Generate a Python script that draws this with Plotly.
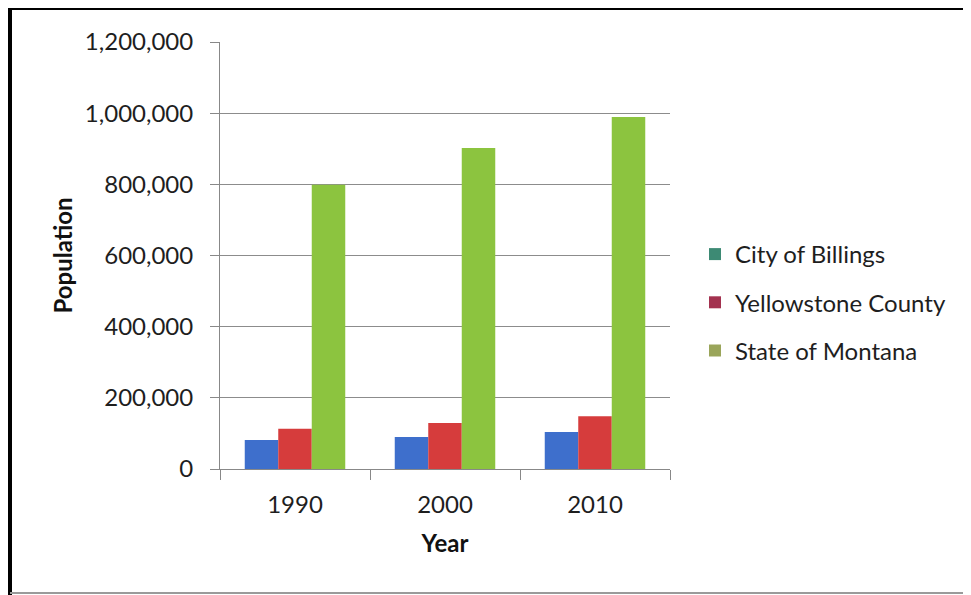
import plotly.graph_objects as go

years = ["1990", "2000", "2010"]
billings = [81151, 89847, 104170]
yellowstone = [113419, 129352, 147972]
montana = [799065, 902195, 989415]
series_names = ["City of Billings", "Yellowstone County", "State of Montana"]
bar_colors = ["#3E6FCC", "#D63C3C", "#8CC43F"]
legend_colors = ["#3D8A74", "#A3324F", "#9AA55A"]
y_ticks = [0, 200000, 400000, 600000, 800000, 1000000, 1200000]
y_tick_labels = ["0", "200,000", "400,000", "600,000", "800,000", "1,000,000", "1,200,000"]

# page body has an 8px margin; figure sized so it fits the 971x595 window
OFF = 8
W, H = 971 - OFF, 595 - OFF
L, T = 220 - OFF, 42 - OFF
pw, ph = 450, 427
R = W - L - pw
B = H - T - ph


def px_x(x):  # viewport px -> paper x
    return (x - OFF - L) / pw


def px_y(y):  # viewport px -> paper y
    return (H - B - (y - OFF)) / ph


fig = go.Figure()
groups = ["a", "b", "c"]
for name, vals, c, g in zip(series_names, [billings, yellowstone, montana], bar_colors, groups):
    fig.add_trace(go.Bar(x=years, y=vals, name=name, offsetgroup=g,
                         marker=dict(color=c, line=dict(width=0)), showlegend=False))
for i, (name, c, g) in enumerate(zip(series_names, legend_colors, groups)):
    fig.add_trace(go.Bar(x=[None], y=[None], name=name, offsetgroup=g,
                         marker=dict(color=c, line=dict(width=0)),
                         legendgroup="g%d" % i, showlegend=True))

font_family = "Lato"
text_color = "#1e1e1e"
fig.update_layout(
    width=W, height=H,
    margin=dict(l=L, r=R, t=T, b=B, pad=0),
    paper_bgcolor="white", plot_bgcolor="white",
    barmode="group", bargap=0.33, bargroupgap=0,
    font=dict(family=font_family, size=24, color=text_color),
    legend=dict(x=px_x(695), xanchor="left", y=px_y(232), yanchor="top",
                font=dict(family=font_family, size=24, color=text_color),
                tracegroupgap=14, bgcolor="rgba(0,0,0,0)", itemwidth=30),
    showlegend=True,
    xaxis=dict(type="category", showgrid=False, showline=True, linecolor="#888888", linewidth=1,
               ticks="outside", tickson="boundaries", ticklen=10, tickcolor="#888888",
               ticklabelstandoff=14,
               tickfont=dict(size=24, color=text_color),
               title=dict(text="<b>Year</b>", font=dict(size=24, color="#111111"), standoff=18)),
    yaxis=dict(range=[0, 1200000], tickvals=y_ticks, ticktext=y_tick_labels,
               showgrid=True, gridcolor="#8c8c8c", gridwidth=1, zeroline=False,
               showline=True, linecolor="#888888", linewidth=1,
               ticks="outside", ticklen=9, tickcolor="#888888",
               ticklabelstandoff=12,
               tickfont=dict(size=24, color=text_color),
               title=dict(text="<b>Population</b>", font=dict(size=24, color="#111111"), standoff=5)),
    shapes=[
        dict(type="line", xref="paper", yref="paper",
             x0=px_x(8), x1=px_x(975), y0=px_y(8.5), y1=px_y(8.5),
             line=dict(color="black", width=3)),
        dict(type="line", xref="paper", yref="paper",
             x0=px_x(10), x1=px_x(10), y0=px_y(7), y1=px_y(600),
             line=dict(color="black", width=4)),
        dict(type="line", xref="paper", yref="paper",
             x0=px_x(10), x1=px_x(975), y0=px_y(593), y1=px_y(593),
             line=dict(color="#9a9a9a", width=2)),
    ],
)

fig.write_html("out.html")
